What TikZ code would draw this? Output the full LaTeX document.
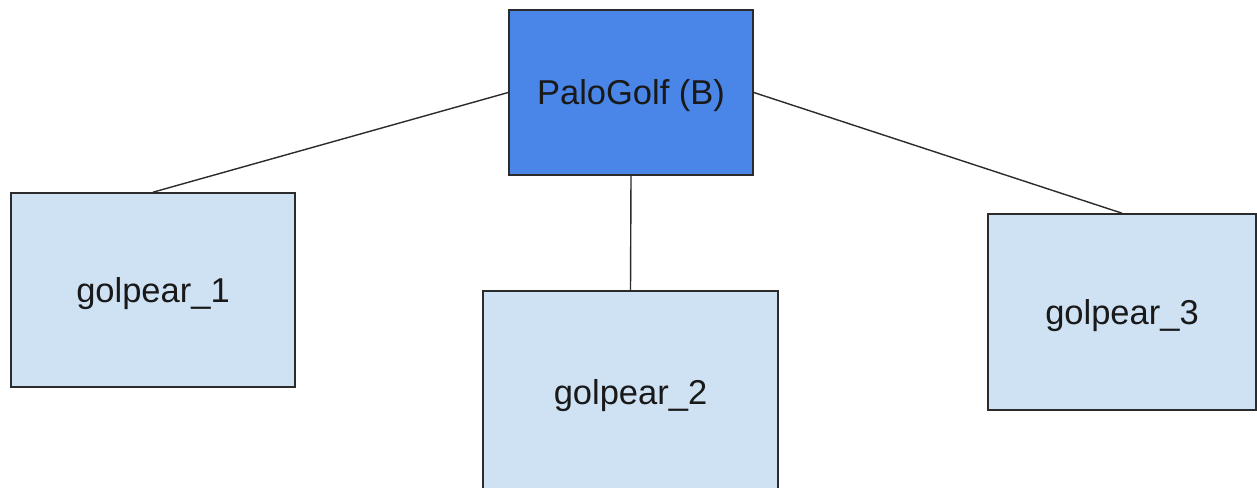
\documentclass[tikz,border=0pt]{standalone}
\usepackage{fontspec}
\setmainfont{Liberation Sans}
\definecolor{parentblue}{HTML}{4A86E8}
\definecolor{childblue}{HTML}{CFE2F3}
\definecolor{edgegray}{HTML}{2B2B2B}
\tikzset{
  box/.style={draw=edgegray, line width=1.6pt, inner sep=0pt, anchor=center,
    font=\fontsize{34.5}{40}\selectfont, text=black!90,
    text height=24.5pt, text depth=0pt},
  parent/.style={box, fill=parentblue},
  child/.style={box, fill=childblue},
  link/.style={draw=edgegray, line width=1.4pt}
}
\begin{document}
\begin{tikzpicture}[x=1pt, y=-1pt]
  \clip (0,0) rectangle (1257,487);
  \fill[white] (0,0) rectangle (1257,487);

  % parent and the three children
  \node[parent, minimum width=244pt, minimum height=165pt] (palo) at (631,92.5) {PaloGolf (B)};
  \node[child, minimum width=284pt, minimum height=194pt] (g1) at (153,290) {golpear\_1};
  \node[child, minimum width=295pt, minimum height=202pt] (g2) at (630.5,392) {golpear\_2};
  \node[child, minimum width=268pt, minimum height=196pt] (g3) at (1122,312) {golpear\_3};

  % connectors
  \draw[link] (palo.west) -- (g1.north);
  \draw[link] (palo.south) -- (g2.north);
  \draw[link] (palo.east) -- (g3.north);
\end{tikzpicture}
\end{document}
